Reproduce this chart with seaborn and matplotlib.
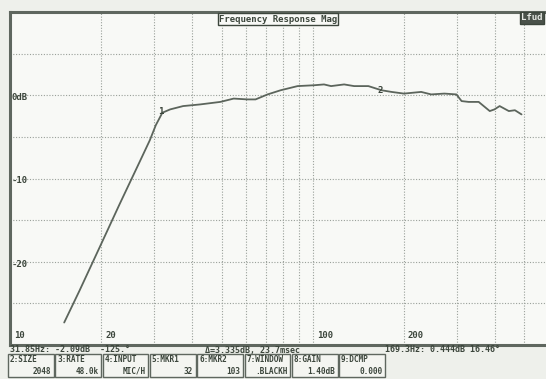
import matplotlib
matplotlib.use("Agg")
import matplotlib.pyplot as plt
import matplotlib.patches as mpatches
import seaborn as sns
import pandas as pd

# Frequency response trace
freq_hz = [15.1, 16.95, 19.75, 23.0, 26.8, 28.96, 30.3, 31.85, 33.8, 37.3, 42.5, 49.5,
           54.8, 60.8, 64.7, 70.9, 78.3, 89.1, 100.9, 108.9, 114.9, 126.9, 136.9,
           152.6, 168.6, 182.0, 200.0, 228.0, 246.0, 272.0, 298.0, 310.0, 327.0,
           353.0, 384.0, 398.0, 414.0, 444.0, 465.0, 489.0]
mag_db = [-27.3, -23.5, -18.3, -13.1, -8.0, -5.4, -3.6, -2.1, -1.7, -1.3, -1.1, -0.8,
          -0.4, -0.5, -0.5, 0.1, 0.6, 1.1, 1.2, 1.3, 1.1, 1.3, 1.1,
          1.1, 0.6, 0.4, 0.2, 0.4, 0.1, 0.2, 0.1, -0.7, -0.8,
          -0.8, -1.9, -1.7, -1.3, -1.9, -1.8, -2.3]

markers = {"1": (31.85, -2.09), "2": (169.3, 0.444)}
x_tick_labels = {10: "10", 20: "20", 100: "100", 200: "200"}
y_tick_labels = {0: "0dB", -10: "-10", -20: "-20"}
x_grid = [20, 30, 40, 50, 60, 70, 80, 90, 100, 200, 300, 400, 500]
y_grid = [5, 0, -5, -10, -15, -20, -25]

status_left = "31.85Hz: -2.09dB  -125.\u00b0"
status_mid = "\u0394=3.335dB, 23.7msec"
status_right = "169.3Hz: 0.444dB 16.46\u00b0"
buttons = [("2:SIZE", "2048"), ("3:RATE", "48.0k"), ("4:INPUT", "MIC/H"),
           ("5:MKR1", "32"), ("6:MKR2", "103"), ("7:WINDOW", ".BLACKH"),
           ("8:GAIN", "1.40dB"), ("9:DCMP", "0.000")]

df = pd.DataFrame({"freq": freq_hz, "db": mag_db})

sns.set_style("white")
plt.rcParams["font.family"] = ["DejaVu Sans Mono"]
ink = "#3c463c"
grid_c = "#9aa09a"

fig = plt.figure(figsize=(5.46, 3.79), dpi=100, facecolor="#eef0eb")
ax = fig.add_axes([10 / 546, 1 - 345 / 379, 1 - 10 / 546 + 0.02, 333 / 379])
ax.set_facecolor("#f8f9f6")

sns.lineplot(data=df, x="freq", y="db", ax=ax, color="#5c655c", lw=1.3,
             sort=False, estimator=None)

ax.set_xscale("log")
ax.set_xlim(10, 640)
ax.set_ylim(-30, 10)
ax.set_xticks([])
ax.set_yticks([])
ax.minorticks_off()
ax.set_xlabel("")
ax.set_ylabel("")

for gx in x_grid:
    ax.axvline(gx, color=grid_c, lw=0.8, ls=(0, (1, 1.5)), zorder=0)
for gy in y_grid:
    ax.axhline(gy, color=grid_c, lw=0.8, ls=(0, (1, 1.5)), zorder=0)

for s in ["left", "top", "bottom"]:
    ax.spines[s].set_color("#5f675f")
    ax.spines[s].set_linewidth(2.2)
ax.spines["right"].set_visible(False)

for fx, lab in x_tick_labels.items():
    ax.text(fx * 1.03, -28.9, lab, fontsize=6.5, fontweight="bold", color=ink,
            va="center", ha="left")
for dy, lab in y_tick_labels.items():
    ax.text(10.15, dy - 0.3, lab, fontsize=6.5, fontweight="bold", color=ink,
            va="center", ha="left")

for lab, (mf, md) in markers.items():
    ax.text(mf * 0.985, md + 0.1, lab, fontsize=6.5, fontweight="bold", color=ink,
            ha="center", va="center")

fig.text(278 / 546, 1 - 19 / 379, "Frequency Response Mag", fontsize=6.5,
         fontweight="bold", color=ink, ha="center", va="center",
         bbox=dict(boxstyle="square,pad=0.15", fc="#f8f9f6", ec=ink, lw=1.0))
fig.text(532 / 546, 1 - 18 / 379, "Lfud", fontsize=6.5, fontweight="bold",
         color="#e6e9e4", ha="center", va="center",
         bbox=dict(boxstyle="square,pad=0.15", fc="#4a524a", ec=ink, lw=1.0))

fig.text(10 / 546, 1 - 350 / 379, status_left, fontsize=6, fontweight="bold",
         color=ink, va="center", ha="left")
fig.text(205 / 546, 1 - 350 / 379, status_mid, fontsize=6, fontweight="bold",
         color=ink, va="center", ha="left")
fig.text(385 / 546, 1 - 350 / 379, status_right, fontsize=6, fontweight="bold",
         color=ink, va="center", ha="left")

bx0, bw, by0, bh = 8, 47.3, 354, 23
for i, (top, val) in enumerate(buttons):
    x0 = bx0 + i * bw
    fig.patches.append(mpatches.Rectangle((x0 / 546, 1 - (by0 + bh) / 379),
                                          (bw - 1.5) / 546, bh / 379,
                                          transform=fig.transFigure, fc="#f4f5f1",
                                          ec="#5f675f", lw=1.0))
    fig.text((x0 + 2) / 546, 1 - (by0 + 6) / 379, top, fontsize=5.6,
             fontweight="bold", color=ink, va="center", ha="left")
    fig.text((x0 + bw - 4) / 546, 1 - (by0 + 17) / 379, val, fontsize=5.6,
             fontweight="bold", color=ink, va="center", ha="right")

plt.savefig("out.png", dpi=100, facecolor=fig.get_facecolor())
